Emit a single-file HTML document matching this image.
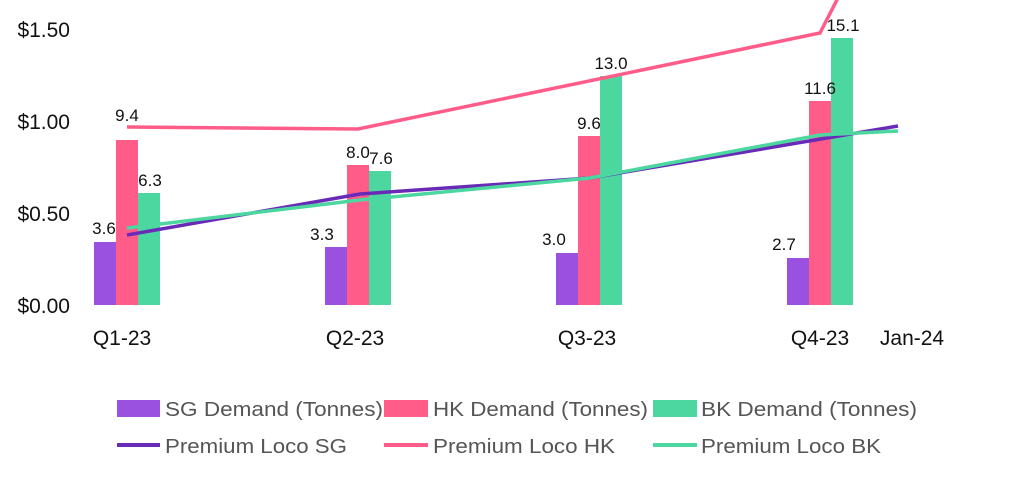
<!DOCTYPE html>
<html><head><meta charset="utf-8"><style>
body{margin:0;background:#fff;}
svg text{font-family:"Liberation Sans",Arial,sans-serif;}
</style></head><body>
<svg width="1024" height="490" xmlns="http://www.w3.org/2000/svg">
<g font-size="21" fill="#111" text-anchor="end">
<text x="70" y="37">$1.50</text>
<text x="70" y="129">$1.00</text>
<text x="70" y="221">$0.50</text>
<text x="70" y="313">$0.00</text>
</g>
<g>
<rect x="94" y="242" width="22" height="63" fill="#9b51e0"/>
<rect x="116" y="140" width="22" height="165" fill="#ff5c8a"/>
<rect x="138" y="193" width="22" height="112" fill="#4cd6a0"/>
<rect x="325" y="247" width="22" height="58" fill="#9b51e0"/>
<rect x="347" y="165" width="22" height="140" fill="#ff5c8a"/>
<rect x="369" y="171" width="22" height="134" fill="#4cd6a0"/>
<rect x="556" y="253" width="22" height="52" fill="#9b51e0"/>
<rect x="578" y="136" width="22" height="169" fill="#ff5c8a"/>
<rect x="600" y="76" width="22" height="229" fill="#4cd6a0"/>
<rect x="787" y="258" width="22" height="47" fill="#9b51e0"/>
<rect x="809" y="101" width="22" height="204" fill="#ff5c8a"/>
<rect x="831" y="38" width="22" height="267" fill="#4cd6a0"/>
</g>
<polyline points="127,127 358,129 820,33 842,-10" fill="none" stroke="#ff5c8a" stroke-width="3.5"/>
<polyline points="127,235 360,194 590,178 898,126" fill="none" stroke="#6a2ab8" stroke-width="3.5"/>
<polyline points="127,228 360,200 590,178 820,135 898,131" fill="none" stroke="#4cd6a0" stroke-width="3.5"/>
<g font-size="17" fill="#111" text-anchor="middle">
<text x="104" y="234">3.6</text>
<text x="127" y="121">9.4</text>
<text x="150" y="186">6.3</text>
<text x="322" y="240">3.3</text>
<text x="358" y="158">8.0</text>
<text x="381" y="164">7.6</text>
<text x="554" y="245">3.0</text>
<text x="589" y="129">9.6</text>
<text x="611" y="69">13.0</text>
<text x="784" y="250">2.7</text>
<text x="820" y="94">11.6</text>
<text x="843" y="31">15.1</text>
</g>
<g font-size="21" fill="#111" text-anchor="middle">
<text x="122" y="345">Q1-23</text>
<text x="355" y="345">Q2-23</text>
<text x="587" y="345">Q3-23</text>
<text x="820" y="345">Q4-23</text>
<text x="912" y="345">Jan-24</text>
</g>
<g font-size="20" fill="#555">
<rect x="117" y="400" width="43" height="17" fill="#9b51e0"/>
<text x="165" y="416" textLength="218" lengthAdjust="spacingAndGlyphs">SG Demand (Tonnes)</text>
<rect x="384" y="400" width="44" height="17" fill="#ff5c8a"/>
<text x="433" y="416" textLength="215" lengthAdjust="spacingAndGlyphs">HK Demand (Tonnes)</text>
<rect x="653" y="400" width="44" height="17" fill="#4cd6a0"/>
<text x="701" y="416" textLength="216" lengthAdjust="spacingAndGlyphs">BK Demand (Tonnes)</text>
<line x1="117" y1="445" x2="160" y2="445" stroke="#6a2ab8" stroke-width="4"/>
<text x="165" y="453" textLength="182" lengthAdjust="spacingAndGlyphs">Premium Loco SG</text>
<line x1="384" y1="445" x2="428" y2="445" stroke="#ff5c8a" stroke-width="4"/>
<text x="433" y="453" textLength="182" lengthAdjust="spacingAndGlyphs">Premium Loco HK</text>
<line x1="653" y1="445" x2="697" y2="445" stroke="#4cd6a0" stroke-width="4"/>
<text x="701" y="453" textLength="180" lengthAdjust="spacingAndGlyphs">Premium Loco BK</text>
</g>
</svg>
</body></html>
